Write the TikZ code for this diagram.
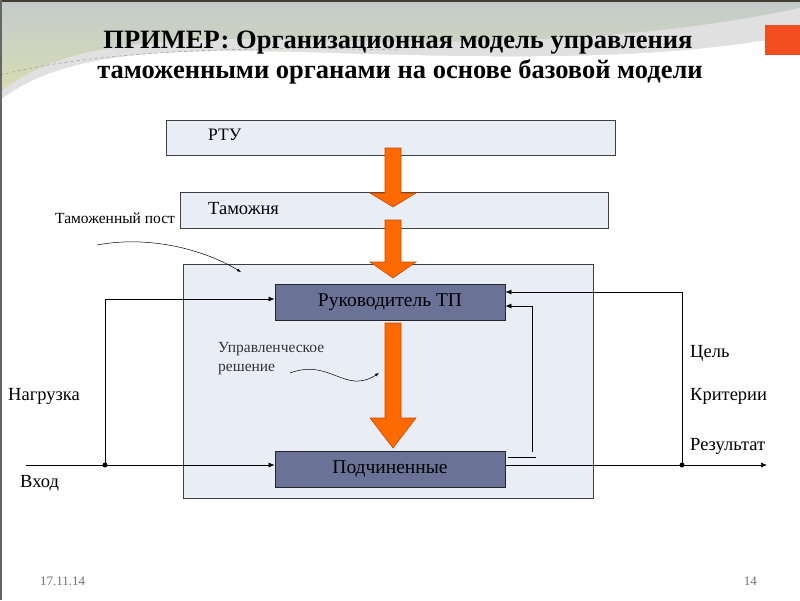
\documentclass[tikz,border=0pt]{standalone}
\usepackage{fontspec}
\setmainfont{Liberation Serif}
\usetikzlibrary{arrows.meta}
\definecolor{lightbox}{HTML}{E9EEF6}
\definecolor{darkbox}{HTML}{6A7298}
\definecolor{orng}{HTML}{FF6A00}
\definecolor{orngedge}{HTML}{C84A00}
\definecolor{bggray}{HTML}{C3CBCB}
\definecolor{bggreen}{HTML}{D9DEB0}
\definecolor{sqred}{HTML}{F04E1E}
\tikzset{
  lbox/.style={draw=black!75, line width=0.8pt, fill=lightbox},
  dbox/.style={draw=black!85, line width=0.8pt, fill=darkbox, minimum width=230pt, minimum height=36pt, font=\fontsize{19.5}{21}\selectfont},
  conn/.style={line width=0.7pt, draw=black},
  tip/.style={-{Latex[length=6pt,width=5pt]}},
  lab/.style={font=\fontsize{18.5}{20}\selectfont, anchor=west, inner sep=0pt},
  small/.style={font=\fontsize{15.5}{17}\selectfont, anchor=west, inner sep=0pt, text=black!80},
  bigarrow/.style={fill=orng, draw=orngedge, line width=0.6pt},
  dotn/.style={circle, fill=black, inner sep=0pt, minimum size=5pt},
  foot/.style={font=\fontsize{13}{15}\selectfont, text=black!55, inner sep=0pt}
}
\begin{document}
\begin{tikzpicture}[x=1pt,y=-1pt]
\useasboundingbox (0,0) rectangle (800,600);
% background
\fill[white] (0,0) rectangle (800,600);
\shade[top color=bggray, bottom color=bggreen] (0,0) rectangle (800,100);
\fill[black!12] (0,92) .. controls (60,45) and (150,36) .. (300,40) .. controls (500,46) and (660,38) .. (800,8) -- (800,34) .. controls (660,62) and (500,58) .. (300,52) .. controls (150,48) and (60,55) .. (0,100) -- cycle;
\fill[white] (0,100) .. controls (60,55) and (150,48) .. (300,52) .. controls (500,58) and (660,62) .. (800,34) -- (800,110) -- (0,110) -- cycle;
\draw[black!45, dashed, line width=0.4pt] (0,75) .. controls (80,55) and (200,45) .. (400,50);
\fill[black!70!olive] (0,0) rectangle (800,2);
\fill[black!60] (0,0) rectangle (2,600);
\fill[sqred] (765,25) rectangle (800,55);
% title
\node[font=\bfseries\fontsize{26.5}{28}\selectfont, inner sep=0pt] (t1) at (398,43) {ПРИМЕР: Организационная модель управления};
\node[font=\bfseries\fontsize{26.5}{28}\selectfont, inner sep=0pt] (t2) at (400,72) {таможенными органами на основе базовой модели};
% boxes
\draw[lbox] (166,120) rectangle (615,155);
\node[lab, font=\fontsize{17.5}{19}\selectfont] (rtu) at (208,135) {РТУ};
\draw[lbox] (180,192) rectangle (608,228);
\node[lab] (tam) at (208,209) {Таможня};
\node[small, text=black] (post) at (55,218) {Таможенный пост};
\draw[lbox] (183,264) rectangle (593,498);
\node[dbox] (ruk) at (390,302) {Руководитель ТП};
\node[dbox] (pod) at (390,469) {Подчиненные};
% orange arrows
\draw[bigarrow] (385,148) -- (401,148) -- (401,193) -- (416,193) -- (393,207) -- (370,193) -- (385,193) -- cycle;
\draw[bigarrow] (385,220) -- (401,220) -- (401,262) -- (416,262) -- (393,278) -- (370,262) -- (385,262) -- cycle;
\draw[bigarrow] (385,323) -- (401,323) -- (401,418) -- (416,418) -- (393,448) -- (370,418) -- (385,418) -- cycle;
% pointer curves
\coordinate (p1) at (97,245);
\coordinate (p2) at (241,272);
\draw[line width=0.5pt, -{Latex[length=4pt,width=3pt]}] (p1) .. controls (150,235) and (205,250) .. (p2);
\node[small] (upr) at (218,349) {Управленческое};
\node[small] (res) at (218,369) {решение};
\coordinate (w1) at (290,373);
\coordinate (w2) at (379,373);
\draw[line width=0.5pt, -{Latex[length=4pt,width=3pt]}] (w1) .. controls (330,358) and (345,395) .. (w2);
% input
\coordinate (in) at (26,465);
\node[dotn] (d1) at (105,465) {};
\draw[conn, tip] (in) -- (pod.west |- in);
\draw[conn, tip] (d1.center) -- (105,299) -- (ruk.west |- 0,299);
% output
\coordinate (out) at (767,465);
\node[dotn] (d2) at (682,465) {};
\draw[conn, tip] (pod.east |- out) -- (out);
\draw[conn, tip] (d2.center) -- (682,292) -- (ruk.east |- 0,292);
% inner feedback
\coordinate (f1) at (508,457);
\coordinate (f2) at (536,457);
\draw[conn] (f1) -- (f2);
\draw[conn, tip] (532,452) -- (532,306) -- (ruk.east |- 0,306);
% labels
\node[lab] (cel) at (690,353) {Цель};
\node[lab] (krit) at (690,396) {Критерии};
\node[lab] (rez) at (690,446) {Результат};
\node[lab] (nag) at (8,396) {Нагрузка};
\node[lab] (vh) at (20,483) {Вход};
% footer
\node[foot, anchor=west] (date) at (40,581) {17.11.14};
\node[foot, anchor=east] (num) at (757,581) {14};
\end{tikzpicture}
\end{document}
